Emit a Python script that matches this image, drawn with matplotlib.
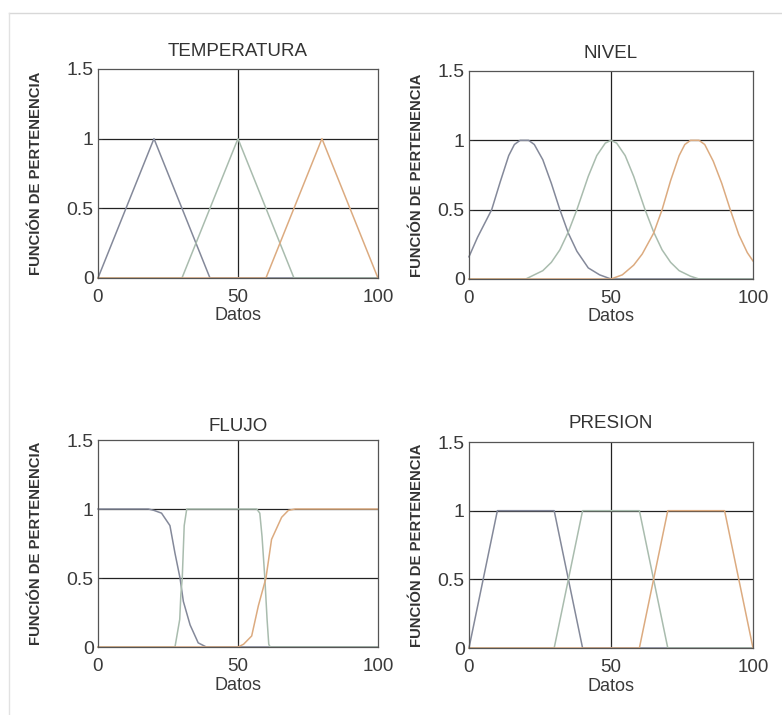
import matplotlib
matplotlib.use("Agg")
import matplotlib.pyplot as plt
from matplotlib.lines import Line2D

plt.rcParams['font.family'] = ['Liberation Sans', 'DejaVu Sans']

# ------------------------------------------------------------
# Datos (x en "Datos", y = funcion de pertenencia)
# ------------------------------------------------------------

# TEMPERATURA: triangulares
temp_bajo_x = [0, 20, 40, 100]
temp_bajo_y = [0, 1, 0, 0]
temp_medio_x = [0, 30, 50, 70, 100]
temp_medio_y = [0, 0, 1, 0, 0]
temp_alto_x = [0, 60, 80, 100]
temp_alto_y = [0, 0, 1, 0]

# NIVEL: campanas
nivel_bajo_x = [0, 3, 5.5, 8, 11, 14, 16, 18, 21, 23, 26, 29, 32, 35, 38, 42, 46, 50, 100]
nivel_bajo_y = [0.16, 0.30, 0.40, 0.50, 0.70, 0.89, 0.97, 1.0, 1.0, 0.97, 0.86, 0.69, 0.50,
                0.33, 0.20, 0.08, 0.03, 0.0, 0.0]
nivel_medio_x = [0, 20, 22, 26, 29, 32, 35, 38, 42, 45, 48, 50, 52, 55, 58, 62, 65, 68, 71,
                 74, 78, 81, 100]
nivel_medio_y = [0, 0, 0.02, 0.06, 0.12, 0.21, 0.34, 0.50, 0.74, 0.89, 0.98, 1.0, 0.98, 0.89,
                 0.74, 0.50, 0.34, 0.21, 0.12, 0.06, 0.02, 0, 0]
nivel_alto_x = [0, 50, 54, 58, 61, 65, 68, 71, 74, 76, 78, 81, 83, 86, 89, 92, 95, 98, 100]
nivel_alto_y = [0, 0, 0.03, 0.10, 0.18, 0.33, 0.50, 0.71, 0.89, 0.97, 1.0, 1.0, 0.97, 0.85,
                0.69, 0.50, 0.32, 0.19, 0.13]

# FLUJO: curvas en S
flujo_bajo_x = [0, 18, 20, 22.7, 25.7, 27.5, 29.3, 30.5, 32.9, 35.8, 38.7, 100]
flujo_bajo_y = [1, 1, 0.99, 0.97, 0.88, 0.68, 0.5, 0.33, 0.16, 0.03, 0, 0]
flujo_medio_x = [0, 27.5, 29.2, 29.6, 30.1, 30.8, 31.7, 56.7, 57.8, 58.6, 59.6, 60.4, 61, 61.5, 100]
flujo_medio_y = [0, 0, 0.2, 0.38, 0.5, 0.88, 1, 1, 0.97, 0.8, 0.5, 0.2, 0.02, 0, 0]
flujo_alto_x = [0, 50, 52, 54.9, 57.3, 60, 62, 65.6, 68, 70.4, 100]
flujo_alto_y = [0, 0, 0.02, 0.08, 0.3, 0.5, 0.78, 0.94, 0.99, 1, 1]

# PRESION: trapezoidales
pres_bajo_x = [0, 10, 30, 40, 100]
pres_bajo_y = [0, 1, 1, 0, 0]
pres_medio_x = [0, 30, 40, 60, 70, 100]
pres_medio_y = [0, 0, 1, 1, 0, 0]
pres_alto_x = [0, 60, 70, 90, 100]
pres_alto_y = [0, 0, 1, 1, 0]

titulos = ['TEMPERATURA', 'NIVEL', 'FLUJO', 'PRESION']
curvas = [
    [(temp_bajo_x, temp_bajo_y), (temp_medio_x, temp_medio_y), (temp_alto_x, temp_alto_y)],
    [(nivel_bajo_x, nivel_bajo_y), (nivel_medio_x, nivel_medio_y), (nivel_alto_x, nivel_alto_y)],
    [(flujo_bajo_x, flujo_bajo_y), (flujo_medio_x, flujo_medio_y), (flujo_alto_x, flujo_alto_y)],
    [(pres_bajo_x, pres_bajo_y), (pres_medio_x, pres_medio_y), (pres_alto_x, pres_alto_y)],
]
colores = ['#84899a', '#a9bcae', '#dcab80']

x_ticks = [0, 50, 100]
y_ticks = [0, 0.5, 1, 1.5]
y_tick_labels = ['0', '0.5', '1', '1.5']

# posiciones de los ejes [left, bottom, width, height] (fraccion de figura)
posiciones = [
    [0.1253, 0.6112, 0.3580, 0.2923],
    [0.5997, 0.6098, 0.3632, 0.2909],
    [0.1253, 0.0951, 0.3580, 0.2895],
    [0.5997, 0.0937, 0.3632, 0.2881],
]
pad_titulo = [9.5, 9.5, 6.5, 10]
pos_ylabel = [-0.198, -0.160, -0.198, -0.160]

fig = plt.figure(figsize=(7.82, 7.15), dpi=100)
fig.patch.set_facecolor('white')

# marco gris tenue del escaneo
fig.add_artist(Line2D([0.012, 1.0], [0.982, 0.982], color='#d8d8d8', lw=1.0))
fig.add_artist(Line2D([0.012, 0.012], [0.0, 0.982], color='#e2e2e2', lw=1.0))

for i in range(4):
    ax = fig.add_axes(posiciones[i])
    ax.set_xlim(0, 100)
    ax.set_ylim(0, 1.5)

    # rejilla negra solida (debajo de las curvas)
    for yv in [0.5, 1.0]:
        ax.axhline(yv, color='#222222', lw=0.9, zorder=1)
    ax.axvline(50, color='#222222', lw=0.9, zorder=1)

    for (xs, ys), c in zip(curvas[i], colores):
        ax.plot(xs, ys, color=c, lw=1.1, zorder=2, clip_on=False)

    ax.set_xticks(x_ticks)
    ax.set_yticks(y_ticks)
    ax.set_yticklabels(y_tick_labels)
    ax.tick_params(direction='in', length=3, width=0.6, colors='#333333',
                   labelcolor='#3a3a3a')
    ax.tick_params(axis='x', labelsize=13.5, pad=8)
    ax.tick_params(axis='y', labelsize=14, pad=3)
    for s in ax.spines.values():
        s.set_color('#555555')
        s.set_linewidth(0.9)

    ax.set_title(titulos[i], fontsize=13.5, color='#333333', pad=pad_titulo[i])
    ax.set_xlabel('Datos', fontsize=13, color='#3a3a3a', labelpad=1)
    ax.set_ylabel('FUNCIÓN DE PERTENENCIA', fontsize=10.7, fontweight='bold',
                  color='#333333')
    ax.yaxis.set_label_coords(pos_ylabel[i], 0.5)

fig.savefig('out.png', dpi=100, facecolor='white')
